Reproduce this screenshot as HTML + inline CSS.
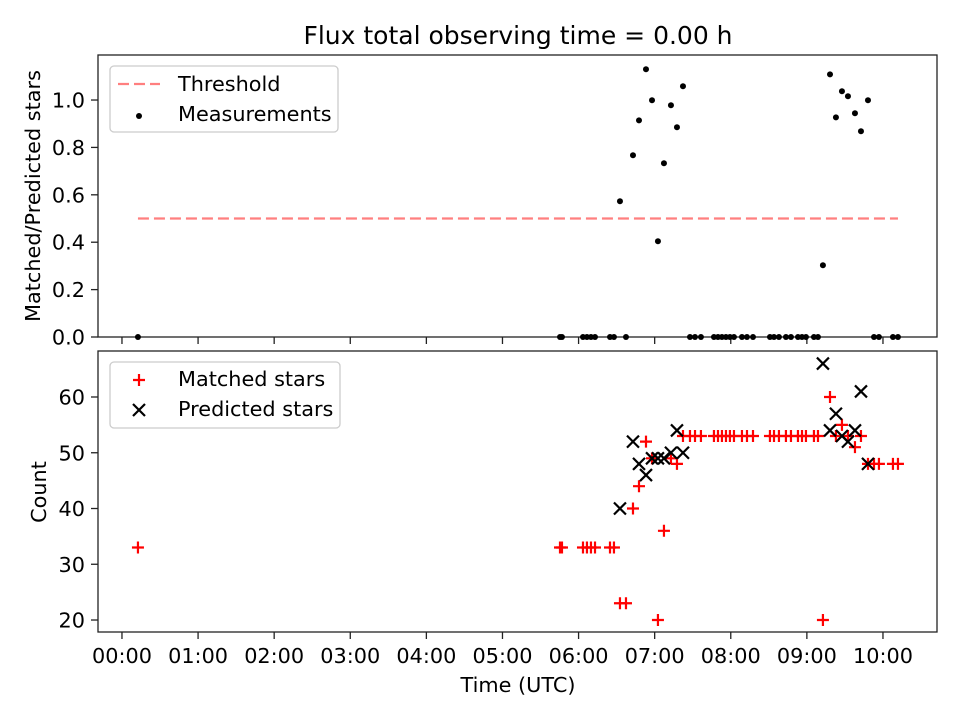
<!DOCTYPE html>
<html><head><meta charset="utf-8"><style>
body{margin:0;background:#fff}
svg{display:block;font-family:"DejaVu Sans","Liberation Sans",sans-serif}
</style></head><body>
<svg id="chart" width="960" height="720" viewBox="0 0 960 720" xmlns="http://www.w3.org/2000/svg">
<rect width="960" height="720" fill="#fff"/>
<text x="518" y="44" font-size="25" text-anchor="middle">Flux total observing time = 0.00 h</text>
<g id="topAxes"></g><g id="botAxes"></g>
</svg>
<script>
const times=[0.21,5.756,5.782,6.058,6.110,6.163,6.216,6.413,6.465,6.544,6.623,6.715,6.794,6.886,6.965,7.043,7.122,7.214,7.293,7.372,7.464,7.530,7.608,7.779,7.832,7.884,7.937,7.989,8.042,8.147,8.213,8.292,8.515,8.568,8.633,8.725,8.791,8.883,8.936,8.988,9.093,9.146,9.211,9.304,9.382,9.461,9.540,9.632,9.711,9.803,9.882,9.947,10.131,10.197];
const measurements=[0,0,0,0,0,0,0,0,0,0.573,0,0.767,0.914,1.13,0.999,0.404,0.733,0.978,0.885,1.058,0,0,0,0,0,0,0,0,0,0,0,0,0,0,0,0,0,0,0,0,0,0,0.303,1.108,0.927,1.037,1.016,0.944,0.868,0.999,0,0,0,0];
const matched=[33,33,33,33,33,33,33,33,33,23,23,40,44,52,49,20,36,49,48,53,53,53,53,53,53,53,53,53,53,53,53,53,53,53,53,53,53,53,53,53,53,53,20,60,53,55,53,51,53,48,48,48,48,48];
const predicted=[null,null,null,null,null,null,null,null,null,40,null,52,48,46,49,49,49,50,54,50,null,null,null,null,null,null,null,null,null,null,null,null,null,null,null,null,null,null,null,null,null,null,66,54,57,53,52,54,61,48,null,null,null,null];
const threshold=0.5;
const xTickLabels=["00:00","01:00","02:00","03:00","04:00","05:00","06:00","07:00","08:00","09:00","10:00"];
const topYTicks=[0.0,0.2,0.4,0.6,0.8,1.0];
const botYTicks=[20,30,40,50,60];

const NS="http://www.w3.org/2000/svg";
const FS=20.8;
const L=98,R=937;
const xs=t=>L+(t+0.315)/(10.71+0.315)*(R-L);
const T0=337,T1=55,ys1=v=>T0-(v-0)/(1.19)*(T0-T1);
const B0=632,B1=351,ys2=v=>B0-(v-17.85)/(68.25-17.85)*(B0-B1);
function el(p,tag,a,txt){const e=document.createElementNS(NS,tag);for(const k in a)e.setAttribute(k,a[k]);if(txt!=null)e.textContent=txt;p.appendChild(e);return e;}
const gTop=document.getElementById('topAxes'),gBot=document.getElementById('botAxes');

function frame(g,y0,y1,ticks,ys,fmt,labels){
  el(g,'rect',{x:L,y:y1,width:R-L,height:y0-y1,fill:'none',stroke:'#222','stroke-width':1.3});
  ticks.forEach(v=>{const y=ys(v);
    const t=el(g,'line',{x1:L-7,x2:L,y1:y,y2:y,stroke:'#222','stroke-width':1.3});
    
    const lb=el(g,'text',{x:L-13,y:y+7.5,'font-size':FS,'text-anchor':'end'},fmt(v));
    });
  xTickLabels.forEach((s,i)=>{const x=xs(i);
    const t=el(g,'line',{x1:x,x2:x,y1:y0,y2:y0+7,stroke:'#222','stroke-width':1.3});
    
    if(labels){const lb=el(g,'text',{x:x,y:y0+31,'font-size':FS,'text-anchor':'middle'},s);
      }});
}
frame(gTop,T0,T1,topYTicks,ys1,v=>v.toFixed(1),false);
frame(gBot,B0,B1,botYTicks,ys2,v=>String(v),true);

let yl=el(gTop,'text',{x:40,y:196,'font-size':FS,'text-anchor':'middle',transform:'rotate(-90 40 196)'},'Matched/Predicted stars');

yl=el(gBot,'text',{x:46,y:492,'font-size':FS,'text-anchor':'middle',transform:'rotate(-90 46 492)'},'Count');

yl=el(gBot,'text',{x:518,y:692,'font-size':FS,'text-anchor':'middle'},'Time (UTC)');


const th=el(gTop,'line',{x1:xs(times[0]),x2:xs(times[times.length-1]),y1:ys1(threshold),y2:ys1(threshold),stroke:'#ff7f7f','stroke-width':2.2,'stroke-dasharray':'11,5'});

times.forEach((t,i)=>{
  const c=el(gTop,'circle',{cx:xs(t),cy:ys1(measurements[i]),r:3,fill:'#000'});
  
});
function plus(g,x,y){return el(g,'path',{d:`M${x-6},${y}H${x+6}M${x},${y-6}V${y+6}`,stroke:'#f00','stroke-width':2.2,fill:'none'});}
function cross(g,x,y){return el(g,'path',{d:`M${x-6},${y-6}L${x+6},${y+6}M${x-6},${y+6}L${x+6},${y-6}`,stroke:'#000','stroke-width':2.2,fill:'none'});}
times.forEach((t,i)=>{
  const p=plus(gBot,xs(t),ys2(matched[i]));
  
});
times.forEach((t,i)=>{ if(predicted[i]==null)return;
  const p=cross(gBot,xs(t),ys2(predicted[i]));
  
});

let lg=el(gTop,'g',{});

el(lg,'rect',{x:110,y:66,width:228,height:66,rx:4,fill:'#fff',stroke:'#ccc','stroke-width':1.3});
el(lg,'line',{x1:118,x2:160,y1:84,y2:84,stroke:'#ff7f7f','stroke-width':2.2,'stroke-dasharray':'11,5'});
el(lg,'text',{x:178,y:91,'font-size':FS},'Threshold');
el(lg,'circle',{cx:139,cy:116,r:3,fill:'#000'});
el(lg,'text',{x:178,y:121,'font-size':FS},'Measurements');
lg=el(gBot,'g',{});

el(lg,'rect',{x:110,y:362,width:230,height:66,rx:4,fill:'#fff',stroke:'#ccc','stroke-width':1.3});
plus(lg,139,380);
el(lg,'text',{x:178,y:386,'font-size':FS},'Matched stars');
cross(lg,139,410);
el(lg,'text',{x:178,y:416,'font-size':FS},'Predicted stars');
</script>
</body></html>
